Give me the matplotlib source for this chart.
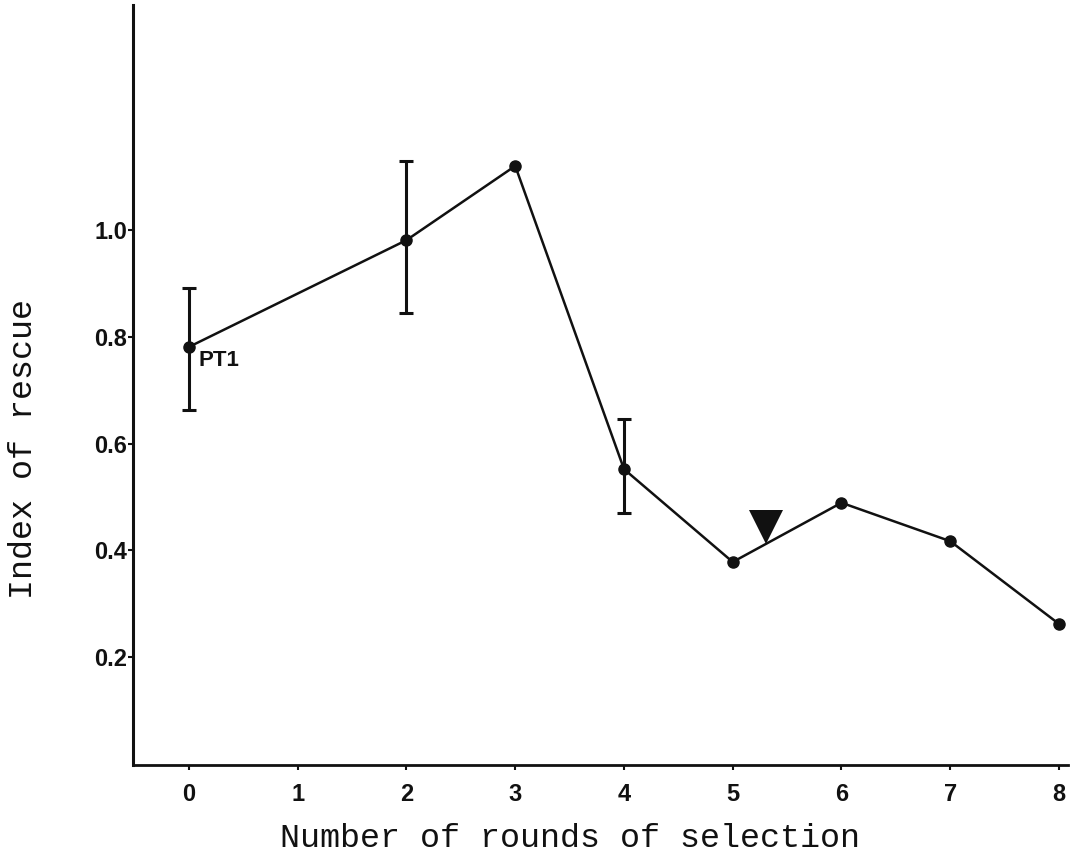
import matplotlib
matplotlib.use("Agg")
import matplotlib.pyplot as plt
from matplotlib import font_manager

# ---- data ----
rounds = [0, 2, 3, 4, 5, 6, 7, 8]
rescue_index = [0.781, 0.981, 1.120, 0.552, 0.378, 0.489, 0.417, 0.262]

err_rounds = [0, 2, 4]
err_low = [0.663, 0.845, 0.470]
err_high = [0.891, 1.129, 0.645]

arrow_round = [5.306]
arrow_value = [0.4445]

x_ticks = [0, 1, 2, 3, 4, 5, 6, 7, 8]
x_tick_labels = ["0", "1", "2", "3", "4", "5", "6", "7", "8"]
y_ticks = [0.2, 0.4, 0.6, 0.8, 1.0]
y_tick_labels = ["0.2", "0.4", "0.6", "0.8", "1.0"]

point_label = "PT1"
x_label = "Number of rounds of selection"
y_label = "Index of rescue"

# ---- fonts ----
names = {f.name for f in font_manager.fontManager.ttflist}
tick_family = "Liberation Sans Narrow" if "Liberation Sans Narrow" in names else "Liberation Sans"
mono_family = "Liberation Mono" if "Liberation Mono" in names else "DejaVu Sans Mono"

W, H = 1081, 857
fig = plt.figure(figsize=(W / 100, H / 100), dpi=100)
fig.patch.set_facecolor("white")

left, right, bottom, top = 133, 1068, 765, 5
ax = fig.add_axes([left / W, 1 - bottom / H, (right - left) / W, (bottom - top) / H])
ax.set_facecolor("white")

ink = "#111111"

# error bars
lower = [v for v in err_low]
upper = [v for v in err_high]
centers = [rescue_index[rounds.index(r)] for r in err_rounds]
ax.errorbar(err_rounds, centers,
            yerr=[[c - lo for c, lo in zip(centers, lower)],
                  [hi - c for c, hi in zip(centers, upper)]],
            fmt="none", ecolor=ink, elinewidth=2.2, capsize=5, capthick=2.2, zorder=2)

# main line
ax.plot(rounds, rescue_index, color=ink, lw=1.8, marker="o", markersize=8,
        markerfacecolor=ink, markeredgecolor=ink, zorder=3)

# arrow marker
ax.plot(arrow_round, arrow_value, linestyle="none", marker="v", markersize=24.5,
        color=ink, markeredgewidth=0, zorder=4)

# PT1 label
ax.annotate(point_label, xy=(rounds[0], rescue_index[0]), xytext=(6.5, -10),
            textcoords="offset points", ha="left", va="center",
            fontsize=16, fontweight="bold", family="Liberation Sans", color=ink)

# axes styling
ax.set_xlim(-0.515, 8.083)
ax.set_ylim(-0.0023, 1.4215)
for s in ["top", "right"]:
    ax.spines[s].set_visible(False)
ax.spines["left"].set_linewidth(2.2)
ax.spines["bottom"].set_linewidth(2.0)
ax.spines["left"].set_color(ink)
ax.spines["bottom"].set_color(ink)

ax.set_xticks(x_ticks)
ax.set_xticklabels(x_tick_labels)
ax.set_yticks(y_ticks)
ax.set_yticklabels(y_tick_labels)
ax.tick_params(axis="x", direction="out", length=3.5, width=1.5, pad=9.5, colors=ink)
ax.tick_params(axis="y", direction="out", length=3.5, width=1.5, pad=0.5, colors=ink)
for lab in ax.get_xticklabels() + ax.get_yticklabels():
    lab.set_family(tick_family)
    lab.set_fontweight("bold")
    lab.set_fontsize(17)

# axis titles (typewriter style)
fig.text(569.5 / W, 1 - 847 / H, x_label, ha="center", va="baseline",
         family=mono_family, fontsize=24, color=ink)
fig.text(32 / W, 1 - 449 / H, y_label, ha="center", va="baseline",
         rotation=90, rotation_mode="anchor",
         family=mono_family, fontsize=24, color=ink)

fig.savefig("out.png", dpi=100, facecolor="white")
